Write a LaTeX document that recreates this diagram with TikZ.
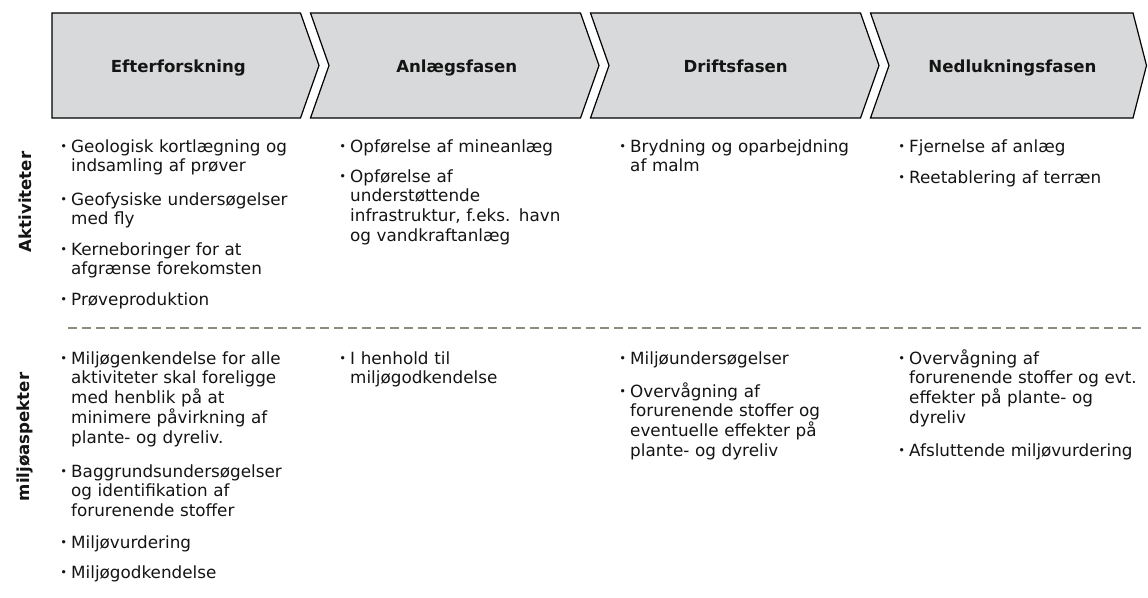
\documentclass[tikz,border=0pt]{standalone}
\usepackage{fontspec}
\setmainfont{DejaVu Sans}
\definecolor{chevgray}{HTML}{D8D9DB}
\definecolor{sepgray}{HTML}{8C8C7C}
\definecolor{txt}{HTML}{141414}
\newcommand{\mybul}{\llap{\raisebox{1.2pt}{\fontsize{11.5}{11.5}\selectfont •}\hspace{4pt}}}
\tikzset{
  chev/.style={draw=black, fill=chevgray, line width=1.2pt, line join=miter},
  head/.style={font=\bfseries\fontsize{16.6}{19.8}\selectfont, inner sep=0, text=txt, anchor=base},
  side/.style={font=\bfseries\fontsize{16.6}{19.8}\selectfont, rotate=90, inner sep=0, text=txt},
  itm/.style={anchor=base west, inner sep=0, text width=290pt, align=left,
    font=\fontsize{16.8}{19.8}\selectfont, text=txt},
  sepline/.style={draw=sepgray, line width=1.6pt, dash pattern=on 9pt off 5pt}
}
\begin{document}
\begin{tikzpicture}[x=1pt, y=-1pt]
\useasboundingbox (0,0) rectangle (1148,597);
% chevrons
\draw[chev] (52,13) -- (300.5,13) -- (319,65.5) -- (300.5,118) -- (52,118) -- cycle;
\draw[chev] (310.5,13) -- (580.5,13) -- (599,65.5) -- (580.5,118) -- (310.5,118) -- (329,65.5) -- cycle;
\draw[chev] (590.5,13) -- (860.5,13) -- (879,65.5) -- (860.5,118) -- (590.5,118) -- (609,65.5) -- cycle;
\draw[chev] (870.5,13) -- (1133,13) -- (1146.5,65.5) -- (1133,118) -- (870.5,118) -- (889,65.5) -- cycle;
\node[head] (h1) at (178.3,72.5) {Efterforskning};
\node[head] (h2) at (456.7,72.5) {Anlægsfasen};
\node[head] (h3) at (735.7,72.5) {Driftsfasen};
\node[head] (h4) at (1012.5,72.5) {Nedlukningsfasen};
% side labels
\node[side] (s1) at (25,202) {Aktiviteter};
\node[side] (s2) at (25,437) {miljøaspekter};
% separator
\coordinate (dl) at (68,328);
\coordinate (dr) at (1141,328);
\draw[sepline] (dl) -- (dr);
% upper column 1
\node[itm] (a11) at (71,152) {\mybul Geologisk kortlægning og\\indsamling af prøver};
\node[itm] (a12) at (71,205) {\mybul Geofysiske undersøgelser\\med fly};
\node[itm] (a13) at (71,255) {\mybul Kerneboringer for at\\afgrænse forekomsten};
\node[itm] (a14) at (71,305) {\mybul Prøveproduktion};
% upper column 2
\node[itm] (a21) at (350,152) {\mybul Opførelse af mineanlæg};
\node[itm] (a22) at (350,182) {\mybul Opførelse af\\understøttende\\infrastruktur, f.eks. havn\\og vandkraftanlæg};
% upper column 3
\node[itm] (a31) at (630,152) {\mybul Brydning og oparbejdning\\af malm};
% upper column 4
\node[itm] (a41) at (909,152) {\mybul Fjernelse af anlæg};
\node[itm] (a42) at (909,183) {\mybul Reetablering af terræn};
% lower column 1
\node[itm] (b11) at (71,364) {\mybul Miljøgenkendelse for alle\\aktiviteter skal foreligge\\med henblik på at\\minimere påvirkning af\\plante- og dyreliv.};
\node[itm] (b12) at (71,477) {\mybul Baggrundsundersøgelser\\og identifikation af\\forurenende stoffer};
\node[itm] (b13) at (71,548) {\mybul Miljøvurdering};
\node[itm] (b14) at (71,578) {\mybul Miljøgodkendelse};
% lower column 2
\node[itm] (b21) at (350,364) {\mybul I henhold til\\miljøgodkendelse};
% lower column 3
\node[itm] (b31) at (630,364) {\mybul Miljøundersøgelser};
\node[itm] (b32) at (630,397) {\mybul Overvågning af\\forurenende stoffer og\\eventuelle effekter på\\plante- og dyreliv};
% lower column 4
\node[itm] (b41) at (909,364) {\mybul Overvågning af\\forurenende stoffer og evt.\\effekter på plante- og\\dyreliv};
\node[itm] (b42) at (909,456) {\mybul Afsluttende miljøvurdering};
\end{tikzpicture}
\end{document}
